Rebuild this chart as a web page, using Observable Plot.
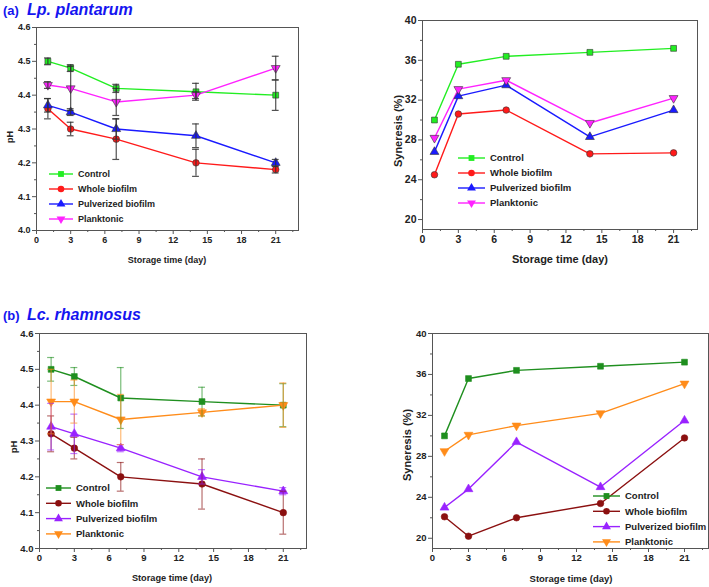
<!DOCTYPE html>
<html><head><meta charset="utf-8">
<script src="https://cdn.jsdelivr.net/npm/d3@7"></script>
<script src="https://cdn.jsdelivr.net/npm/@observablehq/plot@0.6"></script>
<style>
body{margin:0;background:#fff;}
#root{position:relative;width:709px;height:587px;overflow:hidden;font-family:"Liberation Sans",Arial,sans-serif;font-weight:bold;color:#222;}
.lbl{position:absolute;white-space:nowrap;transform:translate(-50%,-50%);}
.rot{position:absolute;white-space:nowrap;transform:translate(-50%,-50%) rotate(-90deg);}
.title{position:absolute;white-space:nowrap;color:#1515f0;transform:translateY(-50%);line-height:1;}
</style></head>
<body><div id="root"></div>
<script>
// ---------- data ----------
const days = [1, 3, 7, 14, 21];
const xTicks = [0, 3, 6, 9, 12, 15, 18, 21];
const xMinor = [1.5, 4.5, 7.5, 10.5, 13.5, 16.5, 19.5, 22.5];
const phTicks = [4.0, 4.1, 4.2, 4.3, 4.4, 4.5, 4.6];
const phMinor = [4.05, 4.15, 4.25, 4.35, 4.45, 4.55];
const synTicks = [20, 24, 28, 32, 36, 40];
const synMinor = [22, 26, 30, 34, 38];
const seriesNames = ["Control", "Whole biofilm", "Pulverized biofilm", "Planktonic"];

// (a) Lp. plantarum – pH
const phA_control = [4.50, 4.48, 4.42, 4.41, 4.40];
const phA_control_sd = [0.01, 0.01, 0.012, 0.025, 0.045];
const phA_whole = [4.36, 4.30, 4.27, 4.20, 4.18];
const phA_whole_sd = [0.03, 0.02, 0.06, 0.04, 0.01];
const phA_pulv = [4.37, 4.35, 4.30, 4.28, 4.20];
const phA_pulv_sd = [0.02, 0.01, 0.03, 0.035, 0.01];
const phA_plank = [4.43, 4.42, 4.38, 4.40, 4.48];
const phA_plank_sd = [0.01, 0.065, 0.04, 0.01, 0.035];

// (a) Lp. plantarum – syneresis
const synA_control = [30.0, 35.6, 36.4, 36.8, 37.2];
const synA_whole = [24.5, 30.6, 31.0, 26.6, 26.7];
const synA_pulv = [26.8, 32.4, 33.5, 28.3, 31.0];
const synA_plank = [28.2, 33.1, 34.0, 29.7, 32.2];

// (b) Lc. rhamnosus – pH
const phB_control = [4.50, 4.48, 4.42, 4.41, 4.40];
const phB_control_sd = [0.033, 0.025, 0.085, 0.04, 0.06];
const phB_whole = [4.32, 4.28, 4.20, 4.18, 4.10];
const phB_whole_sd = [0.05, 0.03, 0.04, 0.07, 0.06];
const phB_pulv = [4.34, 4.32, 4.28, 4.20, 4.16];
const phB_pulv_sd = [0.065, 0.055, 0.01, 0.02, 0.01];
const phB_plank = [4.41, 4.41, 4.36, 4.38, 4.40];
const phB_plank_sd = [0.09, 0.06, 0.07, 0.01, 0.062];

// (b) Lc. rhamnosus – syneresis
const synB_control = [30.0, 35.6, 36.4, 36.8, 37.2];
const synB_whole = [22.1, 20.2, 22.0, 23.4, 29.8];
const synB_pulv = [23.0, 24.8, 29.4, 25.0, 31.5];
const synB_plank = [28.5, 30.1, 31.0, 32.2, 35.1];

// ---------- styles ----------
const colorsA = ["#22ee22", "#ff1a1a", "#1a1aff", "#ff22ff"];
const colorsB = ["#1f8f1f", "#8b1010", "#9922ff", "#ff8c1a"];
const symbolsS = ["square", "circle", "triangle", "triangle"];
const rotations = [0, 0, 0, 180];

const root = document.getElementById("root");

function rows(vals, sds) {
  return days.map((d, i) => ({day: d, v: vals[i], sd: sds ? sds[i] : 0}));
}

function panel(o) {
  const marks = [
    Plot.frame({stroke: "#555", strokeWidth: 1}),
    Plot.axisX({ticks: xTicks, tickSize: 4, tickPadding: 2, label: null, fontSize: o.tickFont, stroke: "#555"}),
    Plot.axisX({ticks: xMinor, tickSize: 2, label: null, text: null, stroke: "#555"}),
    Plot.axisY({ticks: o.yTicks, tickSize: 4, tickPadding: 2, label: null, fontSize: o.tickFont, tickFormat: o.yFmt, stroke: "#555"}),
    Plot.axisY({ticks: o.yMinor, tickSize: 2, label: null, text: null, stroke: "#555"})
  ];
  o.series.forEach((s, k) => {
    marks.push(Plot.line(rows(s.vals, s.sds), {x: "day", y: "v", stroke: o.colors[k], strokeWidth: 1.4}));
  });
  o.series.forEach((s, k) => {
    const c = o.colors[k];
    marks.push(Plot.dot(rows(s.vals, s.sds), {x: "day", y: "v", symbol: symbolsS[k], rotate: rotations[k], fill: c, stroke: o.dotStroke || c, strokeWidth: 0.6, r: 3.3}));
  });
  o.series.forEach((s, k) => {
    if (!s.sds) return;
    const data = rows(s.vals, s.sds);
    const ec = o.errColor || o.colors[k];
    const eo = o.errOpacity || 1;
    marks.push(Plot.ruleX(data, {x: "day", y1: d => d.v - d.sd, y2: d => d.v + d.sd, stroke: ec, strokeOpacity: eo, strokeWidth: 1.2}));
    marks.push(Plot.ruleY(data, {y: d => d.v - d.sd, x1: d => d.day - 0.3, x2: d => d.day + 0.3, stroke: ec, strokeOpacity: eo, strokeWidth: 1.2}));
    marks.push(Plot.ruleY(data, {y: d => d.v + d.sd, x1: d => d.day - 0.3, x2: d => d.day + 0.3, stroke: ec, strokeOpacity: eo, strokeWidth: 1.2}));
  });
  const svg = Plot.plot({
    width: o.width, height: o.height,
    marginLeft: o.ml, marginRight: o.mr, marginTop: o.mt, marginBottom: o.mb,
    x: {domain: [0, 23]},
    y: {domain: o.yDomain},
    style: {fontFamily: '"Liberation Sans", Arial, sans-serif', fontWeight: "bold", color: "#222", background: "transparent", overflow: "visible"},
    marks
  });
  svg.style.position = "absolute";
  svg.style.left = o.left + "px";
  svg.style.top = o.top + "px";
  root.appendChild(svg);
}

function legend(o) {
  const svg = d3.create("svg").attr("width", 160).attr("height", 70)
    .style("position", "absolute").style("left", o.left + "px").style("top", o.top + "px")
    .style("overflow", "visible");
  seriesNames.forEach((name, k) => {
    const y = 6 + k * o.step;
    const g = svg.append("g");
    g.append("line").attr("x1", 0).attr("x2", o.lineLen).attr("y1", y).attr("y2", y)
      .attr("stroke", o.colors[k]).attr("stroke-width", 1.4);
    const type = [d3.symbolSquare, d3.symbolCircle, d3.symbolTriangle, d3.symbolTriangle][k];
    g.append("path").attr("d", d3.symbol(type, 34)())
      .attr("transform", `translate(${o.lineLen / 2},${y}) rotate(${rotations[k]})`)
      .attr("fill", o.colors[k]);
    g.append("text").attr("x", o.lineLen + 5).attr("y", y).attr("dy", "0.35em")
      .attr("font-size", o.font).attr("font-weight", "bold").attr("fill", "#222")
      .attr("font-family", '"Liberation Sans", Arial, sans-serif').text(name);
  });
  root.appendChild(svg.node());
}

function label(text, x, y, size, rotate) {
  const d = document.createElement("div");
  d.className = rotate ? "rot" : "lbl";
  d.style.left = x + "px"; d.style.top = y + "px"; d.style.fontSize = size + "px";
  d.textContent = text;
  root.appendChild(d);
}

const fmt1 = d3.format(".1f");

panel({left: 0, top: 0, width: 310, height: 275, ml: 36, mr: 12, mt: 27, mb: 45,
  yDomain: [4.0, 4.6], yTicks: phTicks, yMinor: phMinor, yFmt: fmt1, tickFont: 9,
  colors: colorsA, errColor: "#333", errOpacity: 0.85, dotStroke: "#333",
  series: [
    {vals: phA_control, sds: phA_control_sd},
    {vals: phA_whole, sds: phA_whole_sd},
    {vals: phA_pulv, sds: phA_pulv_sd},
    {vals: phA_plank, sds: phA_plank_sd}
  ]});
panel({left: 360, top: 0, width: 349, height: 275, ml: 62, mr: 12, mt: 20, mb: 46,
  yDomain: [19, 40], yTicks: synTicks, yMinor: synMinor, yFmt: d3.format("d"), tickFont: 10.5,
  colors: colorsA, dotStroke: "#333",
  series: [{vals: synA_control}, {vals: synA_whole}, {vals: synA_pulv}, {vals: synA_plank}]});
panel({left: 0, top: 300, width: 320, height: 287, ml: 39, mr: 14, mt: 33, mb: 39,
  yDomain: [4.0, 4.6], yTicks: phTicks, yMinor: phMinor, yFmt: fmt1, tickFont: 9.5,
  colors: colorsB, errOpacity: 0.6,
  series: [
    {vals: phB_control, sds: phB_control_sd},
    {vals: phB_whole, sds: phB_whole_sd},
    {vals: phB_pulv, sds: phB_pulv_sd},
    {vals: phB_plank, sds: phB_plank_sd}
  ]});
panel({left: 360, top: 300, width: 349, height: 287, ml: 72, mr: 1, mt: 33, mb: 39,
  yDomain: [19, 40], yTicks: synTicks, yMinor: synMinor, yFmt: d3.format("d"), tickFont: 9.5,
  colors: colorsB,
  series: [{vals: synB_control}, {vals: synB_whole}, {vals: synB_pulv}, {vals: synB_plank}]});

legend({left: 49, top: 168, step: 15, lineLen: 24, font: 9, colors: colorsA});
legend({left: 458, top: 152, step: 15, lineLen: 27, font: 9.5, colors: colorsA});
legend({left: 46, top: 482, step: 15.3, lineLen: 25, font: 9.5, colors: colorsB});
legend({left: 593, top: 490, step: 15.3, lineLen: 27, font: 9.5, colors: colorsB});

label("Storage time (day)", 167, 260, 9, false);
label("pH", 10, 137, 9, true);
label("Storage time (day)", 560, 259, 11, false);
label("Syneresis (%)", 398, 131, 11, true);
label("Storage time (day)", 172, 578, 9.2, false);
label("pH", 13, 447, 9.5, true);
label("Storage time (day)", 571, 578, 9.5, false);
label("Syneresis (%)", 407, 445, 11, true);

function title(tag, name, cy) {
  const a = document.createElement("div");
  a.className = "title";
  a.style.left = "3px"; a.style.top = cy + "px"; a.style.fontSize = "13px";
  a.textContent = tag;
  root.appendChild(a);
  const b = document.createElement("div");
  b.className = "title";
  b.style.left = "27px"; b.style.top = cy + "px"; b.style.fontSize = "16px"; b.style.fontStyle = "italic";
  b.textContent = name;
  root.appendChild(b);
}
title("(a)", "Lp. plantarum", 10);
title("(b)", "Lc. rhamnosus", 315);
</script>
</body></html>
